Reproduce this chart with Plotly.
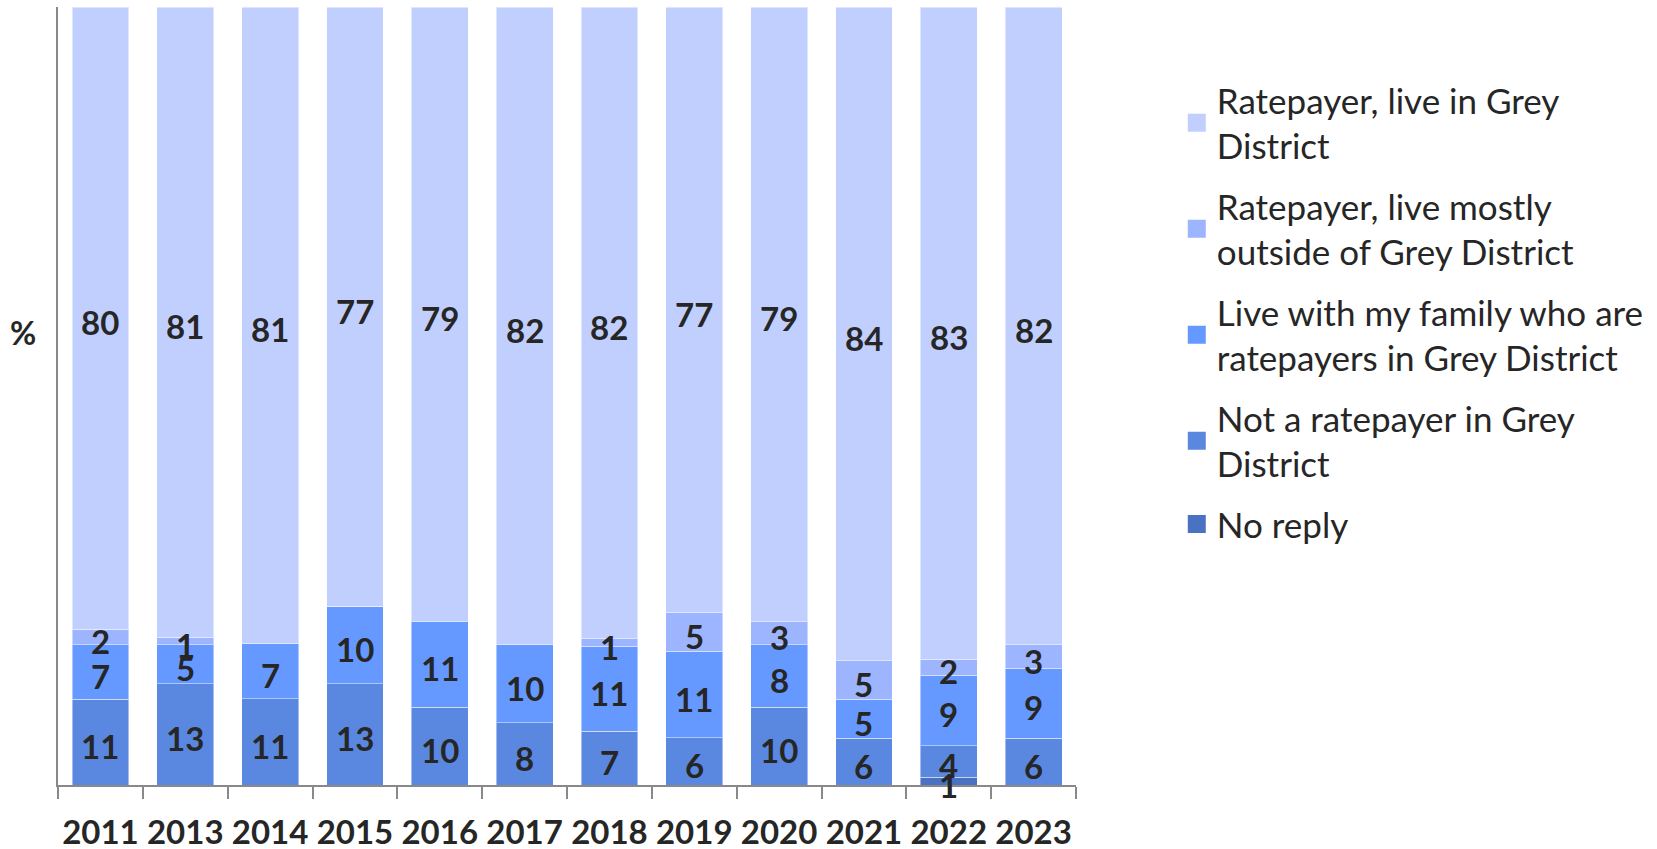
import plotly.graph_objects as go

years = ["2011", "2013", "2014", "2015", "2016", "2017", "2018", "2019", "2020", "2021", "2022", "2023"]

no_reply       = [0, 0, 0, 0, 0, 0, 0, 0, 0, 0, 1, 0]
not_ratepayer  = [11, 13, 11, 13, 10, 8, 7, 6, 10, 6, 4, 6]
live_family    = [7, 5, 7, 10, 11, 10, 11, 11, 8, 5, 9, 9]
live_outside   = [2, 1, 0, 0, 0, 0, 1, 5, 3, 5, 2, 3]
live_in        = [80, 81, 81, 77, 79, 82, 82, 77, 79, 84, 83, 82]

series = [
    ("No reply", no_reply, "#4A72C2"),
    ("Not a ratepayer in Grey<br>District", not_ratepayer, "#5A88E0"),
    ("Live with my family who are<br>ratepayers in Grey District", live_family, "#6699FF"),
    ("Ratepayer, live mostly<br>outside of Grey District", live_outside, "#9DB5FF"),
    ("Ratepayer, live in Grey<br>District", live_in, "#C1CFFF"),
]

FONT = "Lato"
TXT = "#262626"

totals = [sum(s[1][j] for s in series) for j in range(len(years))]

fig = go.Figure()
n = len(series)
for i, (name, vals, color) in enumerate(series):
    fig.add_trace(go.Bar(
        x=years, y=vals, name=name, showlegend=False,
        marker=dict(color=color, line=dict(color="rgba(255,255,255,0.45)", width=1)),
        hoverinfo="skip",
    ))
    # legend entry with a larger square swatch
    fig.add_trace(go.Scatter(
        x=[None], y=[None], mode="markers", name=name,
        legendgroup=f"g{i}", legendrank=n - i,
        marker=dict(symbol="square", size=16, color=color, line=dict(color=color, width=2)),
    ))

# value labels at the middle of each (normalised) segment;
# x given as the category's serial index (the year names look numeric)
annotations = []
base = [0.0] * len(years)
for name, vals, color in series:
    for j, v in enumerate(vals):
        h = v / totals[j] * 100
        if v:
            annotations.append(dict(
                x=j, xref="x", yref="y", y=base[j] + h / 2, text=f"<b>{v}</b>",
                showarrow=False, xanchor="center", yanchor="middle", yshift=-4,
                font=dict(family=FONT, size=33, color=TXT),
            ))
        base[j] += h

annotations.append(dict(
    text="<b>%</b>", xref="paper", yref="paper", x=-0.034, y=0.581,
    xanchor="center", yanchor="middle",
    showarrow=False, font=dict(family=FONT, size=32, color=TXT),
))

fig.update_layout(
    barmode="stack", barnorm="percent", bargap=0.33,
    width=1657, height=849,
    margin=dict(l=58, r=581, t=7, b=64),
    paper_bgcolor="white", plot_bgcolor="white",
    font=dict(family=FONT, color=TXT),
    showlegend=True,
    legend=dict(
        x=1.099, xanchor="left", y=0.918, yanchor="top",
        traceorder="grouped", itemsizing="trace",
        font=dict(family=FONT, size=35, color=TXT),
        tracegroupgap=12, bgcolor="rgba(0,0,0,0)",
    ),
    annotations=annotations,
)
fig.update_xaxes(
    type="category", range=[-0.5, len(years) - 0.5],
    showline=True, linecolor="#898989", linewidth=2,
    ticks="outside", tickson="boundaries", ticklen=12, tickcolor="#898989", tickwidth=2,
    tickfont=dict(family=FONT, size=33, color=TXT, weight="bold"),
    tickangle=0, automargin=False,
    ticklabelstandoff=17, showgrid=False,
)
fig.update_yaxes(
    range=[0, 100.02], showline=True, linecolor="#898989", linewidth=2,
    showticklabels=False, showgrid=False, zeroline=False, ticks="",
)

fig.write_html("out.html", config={"displayModeBar": False},
               post_script="document.body.style.margin='0';")
